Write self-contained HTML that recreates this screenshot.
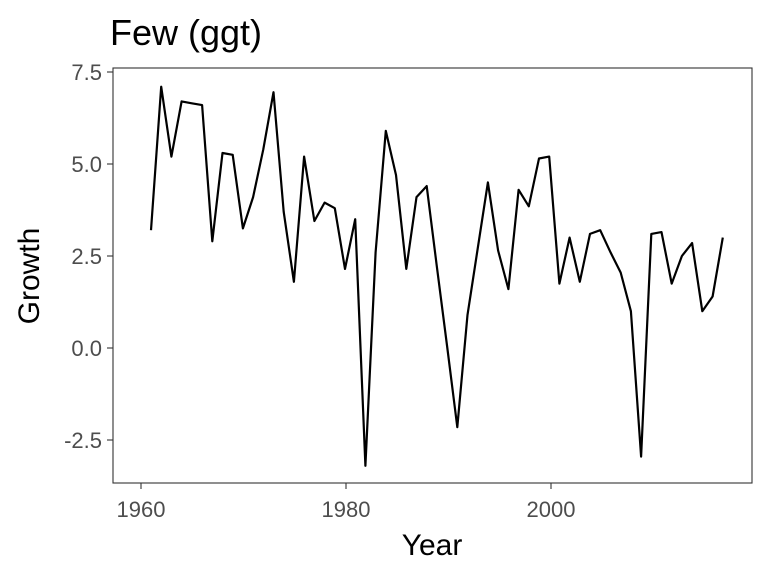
<!DOCTYPE html>
<html><head><meta charset="utf-8"><style>body{margin:0;background:#fff}svg{display:block}</style></head>
<body>
<svg id="s" width="768" height="576" xmlns="http://www.w3.org/2000/svg" font-family="Liberation Sans, sans-serif">
<rect width="768" height="576" fill="#fff"/>
<text x="110" y="45" font-size="36" fill="#000">Few (ggt)</text>
<rect x="113" y="68" width="639" height="415" fill="none" stroke="#333" stroke-width="1.1"/>
<g stroke="#333" stroke-width="1.1">
<line x1="107" x2="113" y1="72" y2="72"/><line x1="107" x2="113" y1="164" y2="164"/><line x1="107" x2="113" y1="256" y2="256"/><line x1="107" x2="113" y1="348" y2="348"/><line x1="107" x2="113" y1="440" y2="440"/>
<line x1="141" x2="141" y1="483" y2="489"/><line x1="346" x2="346" y1="483" y2="489"/><line x1="551" x2="551" y1="483" y2="489"/>
</g>
<g font-size="22" fill="#4d4d4d" text-anchor="end">
<text x="102" y="80">7.5</text><text x="102" y="172">5.0</text><text x="102" y="264">2.5</text><text x="102" y="356">0.0</text><text x="102" y="448">-2.5</text>
</g>
<g font-size="22" fill="#4d4d4d" text-anchor="middle">
<text x="141" y="517">1960</text><text x="346" y="517">1980</text><text x="551" y="517">2000</text>
</g>
<text x="432" y="555" font-size="30" text-anchor="middle">Year</text>
<text transform="translate(39,276) rotate(-90)" font-size="30" text-anchor="middle">Growth</text>
<path id="p" fill="none" stroke="#000" stroke-width="2.2" stroke-linejoin="round"/>
</svg>
<script>
var d=[3.2,7.1,5.2,6.7,6.65,6.6,2.9,5.3,5.25,3.25,4.1,5.4,6.95,3.7,1.8,5.2,3.45,3.95,3.8,2.15,3.5,-3.2,2.6,5.9,4.7,2.15,4.1,4.4,2.2,0.05,-2.15,0.9,2.7,4.5,2.65,1.6,4.3,3.85,5.15,5.2,1.75,3.0,1.8,3.1,3.2,2.6,2.05,1.0,-2.95,3.1,3.15,1.75,2.5,2.85,1.0,1.4,3.0];
var s="";for(var i=0;i<d.length;i++){var x=151+10.21*i,y=348-36.8*d[i];s+=(i?"L":"M")+x.toFixed(1)+","+y.toFixed(1);}
document.getElementById("p").setAttribute("d",s);
</script>
</body></html>
